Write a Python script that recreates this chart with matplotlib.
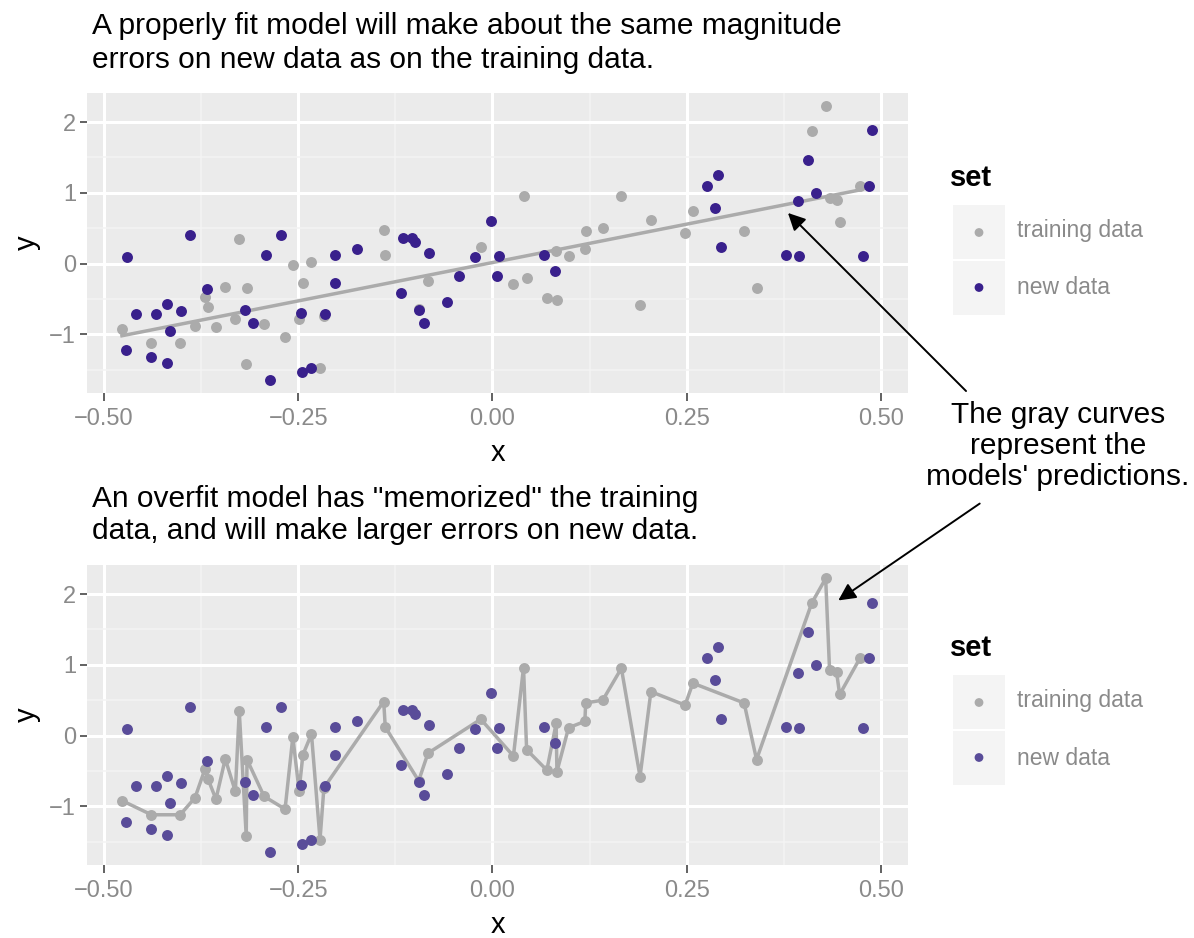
import numpy as np
import matplotlib
matplotlib.use("Agg")
import matplotlib.pyplot as plt
from matplotlib.patches import FancyArrowPatch

plt.rcParams['font.family'] = ['Liberation Sans', 'DejaVu Sans']

# training data (gray), sorted by x
train_x = [-0.477, -0.439, -0.402, -0.383, -0.370, -0.366, -0.356, -0.344, -0.331, -0.326,
           -0.317, -0.316, -0.294, -0.267, -0.257, -0.249, -0.244, -0.233, -0.222, -0.217,
           -0.140, -0.138, -0.095, -0.083, -0.015, 0.027, 0.040, 0.044, 0.070, 0.082,
           0.083, 0.098, 0.119, 0.120, 0.142, 0.166, 0.190, 0.204, 0.248, 0.258,
           0.324, 0.340, 0.411, 0.429, 0.434, 0.443, 0.447, 0.473]
train_y = [-0.92, -1.12, -1.12, -0.88, -0.47, -0.62, -0.90, -0.33, -0.79, 0.35,
           -1.42, -0.34, -0.86, -1.04, -0.02, -0.78, -0.27, 0.02, -1.47, -0.74,
           0.48, 0.12, -0.64, -0.25, 0.23, -0.29, 0.96, -0.20, -0.49, 0.17,
           -0.51, 0.11, 0.20, 0.46, 0.50, 0.95, -0.58, 0.62, 0.43, 0.74,
           0.46, -0.34, 1.87, 2.22, 0.93, 0.90, 0.58, 1.09]

# new data (purple)
new_x = [-0.471, -0.472, -0.459, -0.440, -0.433, -0.419, -0.415, -0.419, -0.401, -0.389,
         -0.368, -0.318, -0.308, -0.292, -0.287, -0.272, -0.246, -0.245, -0.234, -0.215,
         -0.203, -0.203, -0.174, -0.115, -0.118, -0.103, -0.100, -0.082, -0.095, -0.088,
         -0.059, -0.043, -0.022, -0.002, 0.009, 0.006, 0.067, 0.080, 0.276, 0.290,
         0.287, 0.294, 0.378, 0.395, 0.394, 0.406, 0.417, 0.477, 0.485, 0.489]
new_y = [0.09, -1.22, -0.71, -1.32, -0.71, -0.57, -0.96, -1.40, -0.67, 0.41,
         -0.36, -0.65, -0.84, 0.12, -1.64, 0.41, -0.70, -1.53, -1.48, -0.71,
         0.12, -0.27, 0.20, 0.36, -0.41, 0.36, 0.31, 0.15, -0.65, -0.84,
         -0.54, -0.17, 0.09, 0.60, 0.11, -0.18, 0.12, -0.10, 1.10, 1.25,
         0.79, 0.24, 0.12, 0.10, 0.88, 1.47, 1.00, 0.11, 1.09, 1.88]

titles = ["A properly fit model will make about the same magnitude\nerrors on new data as on the training data.",
          "An overfit model has \"memorized\" the training\ndata, and will make larger errors on new data."]
note = "The gray curves\nrepresent the\nmodels' predictions."
set_labels = ["training data", "new data"]

GRAY = '#ABABAB'
PURPLE_TOP = '#39208C'
PURPLE_BOT = '#594C99'
BG = '#EBEBEB'

W, H = 1194, 938
fig = plt.figure(figsize=(W / 100, H / 100), dpi=100)


def px_axes(l, t, r, b):
    return fig.add_axes([l / W, 1 - b / H, (r - l) / W, (b - t) / H])


def style(ax):
    ax.set_facecolor(BG)
    for s in ax.spines.values():
        s.set_visible(False)
    ax.set_xlim(-0.522, 0.535)
    ax.set_ylim(-1.83, 2.41)
    ax.set_xticks([-0.5, -0.25, 0, 0.25, 0.5])
    ax.set_xticklabels(['\u22120.50', '\u22120.25', '0.00', '0.25', '0.50'])
    ax.set_yticks([-1, 0, 1, 2])
    ax.set_yticklabels(['\u22121', '0', '1', '2'])
    ax.set_xticks([-0.375, -0.125, 0.125, 0.375], minor=True)
    ax.set_yticks([-1.5, -0.5, 0.5, 1.5], minor=True)
    ax.grid(which='major', color='white', lw=2.2)
    ax.grid(which='minor', color='#F4F4F4', lw=1.1)
    ax.set_axisbelow(True)
    ax.tick_params(which='major', length=6, width=1.3, color='#555555',
                   labelcolor='#8A8A8A', labelsize=17, pad=5)
    ax.tick_params(axis='y', which='major', length=5, pad=3)
    ax.tick_params(which='minor', length=0)
    ax.set_xlabel('x', fontsize=21, labelpad=6)
    ax.set_ylabel('y', fontsize=21, labelpad=6)


def legend(top, purple):
    fig.text(950 / W, 1 - top / H, 'set', fontsize=21, fontweight='bold',
             va='center', ha='left')
    box = fig.add_axes([953 / W, 1 - (top + 137) / H, 52 / W, 110 / H])
    box.set_facecolor('#F4F4F4')
    box.set_xlim(0, 1)
    box.set_ylim(0, 2)
    box.axhline(1, color='white', lw=1.5)
    box.set_xticks([])
    box.set_yticks([])
    for s in box.spines.values():
        s.set_visible(False)
    box.scatter([0.5, 0.5], [1.5, 0.5], c=[GRAY, purple], s=40, lw=0)
    for i, lab in enumerate(set_labels):
        fig.text(1017 / W, 1 - (top + 52 + 58 * i) / H, lab, fontsize=16.5,
                 color='#8A8A8A', va='center', ha='left')


# top panel: properly fit
ax1 = px_axes(87, 93, 908, 393)
style(ax1)
coef = np.polyfit(train_x, train_y, 1)
xs = np.array([min(train_x), max(train_x)])
ax1.plot(xs, np.polyval(coef, xs), color=GRAY, lw=2.5, zorder=2)
ax1.scatter(train_x, train_y, color=GRAY, s=62, lw=0, zorder=3)
ax1.scatter(new_x, new_y, color=PURPLE_TOP, s=62, lw=0, zorder=4)

# bottom panel: overfit
ax2 = px_axes(87, 565, 908, 865)
style(ax2)
ax2.plot(train_x, train_y, color=GRAY, lw=2.5, zorder=2)
ax2.scatter(train_x, train_y, color=GRAY, s=62, lw=0, zorder=3)
ax2.scatter(new_x, new_y, color=PURPLE_BOT, s=62, lw=0, zorder=4)

legend(178, PURPLE_TOP)
legend(648, PURPLE_BOT)

fig.text(92 / W, 1 - 43 / H, titles[0], fontsize=21.5, va='center', ha='left',
         linespacing=1.27)
fig.text(92 / W, 1 - 515 / H, titles[1], fontsize=21.5, va='center', ha='left',
         linespacing=1.18)
fig.text(1058 / W, 1 - 446 / H, note, fontsize=21.5, va='center', ha='center',
         linespacing=1.14)

ann_kw = dict(arrowstyle='-|>', color='black', lw=1.4, mutation_scale=26)
fig.add_artist(FancyArrowPatch(
    (968 / W, 1 - 393 / H), (786 / W, 1 - 211 / H), transform=fig.transFigure, **ann_kw))
fig.add_artist(FancyArrowPatch(
    (982 / W, 1 - 502 / H), (836 / W, 1 - 602 / H), transform=fig.transFigure, **ann_kw))

fig.savefig('out.png', dpi=100, facecolor='white')
